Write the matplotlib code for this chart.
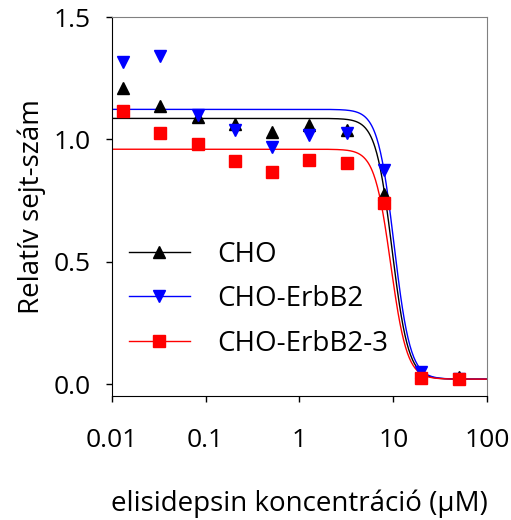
import numpy as np
import matplotlib
matplotlib.use("Agg")
import matplotlib.pyplot as plt

plt.rcParams['font.family'] = ['Open Sans', 'DejaVu Sans']

conc = [0.0131, 0.0328, 0.0819, 0.2048, 0.512, 1.28, 3.2, 8.0, 20.0, 50.0]
labels = ["CHO", "CHO-ErbB2", "CHO-ErbB2-3"]
cho = [1.21, 1.135, 1.09, 1.065, 1.03, 1.06, 1.04, 0.775, 0.05, 0.03]
erbb2 = [1.315, 1.34, 1.10, 1.04, 0.97, 1.02, 1.025, 0.875, 0.05, 0.02]
erbb23 = [1.115, 1.025, 0.98, 0.91, 0.865, 0.915, 0.905, 0.74, 0.025, 0.02]

# fitted sigmoid parameters (top, bottom, IC50, Hill slope)
fit_top = [1.086, 1.123, 0.96]
fit_bottom = [0.02, 0.02, 0.02]
fit_ic50 = [9.7, 10.2, 9.4]
fit_hill = [5.0, 5.0, 5.0]

colors = ["black", "blue", "red"]
markers = ["^", "v", "s"]
msizes = [9, 9, 8]
series = [cho, erbb2, erbb23]

fig = plt.figure(figsize=(5.11, 5.20), dpi=100)
ax = fig.add_axes([0.219, 0.238, 0.734, 0.729])

xs = np.logspace(-2, 2, 600)
handles = []
for i in range(3):
    top, bot, ic, n = fit_top[i], fit_bottom[i], fit_ic50[i], fit_hill[i]
    yfit = bot + (top - bot) / (1 + (xs / ic) ** n)
    ax.plot(xs, yfit, color=colors[i], lw=1.0, zorder=2)
for i in range(3):
    ax.plot(conc, series[i], linestyle='none', marker=markers[i], ms=msizes[i],
            color=colors[i], markeredgecolor=colors[i], zorder=3 + i)
    h, = ax.plot([], [], color=colors[i], lw=1.0, marker=markers[i], ms=msizes[i])
    handles.append(h)

ax.set_xscale('log')
ax.set_xlim(0.01, 100)
ax.set_ylim(-0.05, 1.5)
ax.set_xticks([0.01, 0.1, 1, 10, 100])
ax.set_xticklabels(["0.01", "0.1", "1", "10", "100"])
ax.xaxis.set_minor_locator(matplotlib.ticker.NullLocator())
ax.set_yticks([0.0, 0.5, 1.0, 1.5])
ax.set_yticklabels(["0.0", "0.5", "1.0", "1.5"])
ax.tick_params(axis='both', direction='out', length=4, width=1, labelsize=19)
ax.tick_params(axis='y', pad=11)
ax.tick_params(axis='x', pad=19)

for s in ['top', 'right']:
    ax.spines[s].set_color('#808080')
for s in ['left', 'bottom']:
    ax.spines[s].set_color('black')

ax.set_ylabel("Relatív sejt-szám", fontsize=20, labelpad=6)
ax.set_xlabel("elisidepsin koncentráció (μM)", fontsize=20, labelpad=26)

ax.legend(handles, labels, loc='center left', bbox_to_anchor=(0.045, 0.256),
          frameon=False, fontsize=20, handlelength=2.2, handletextpad=1.0,
          labelspacing=0.6, borderaxespad=0, borderpad=0)

fig.savefig("out.png", dpi=100)
